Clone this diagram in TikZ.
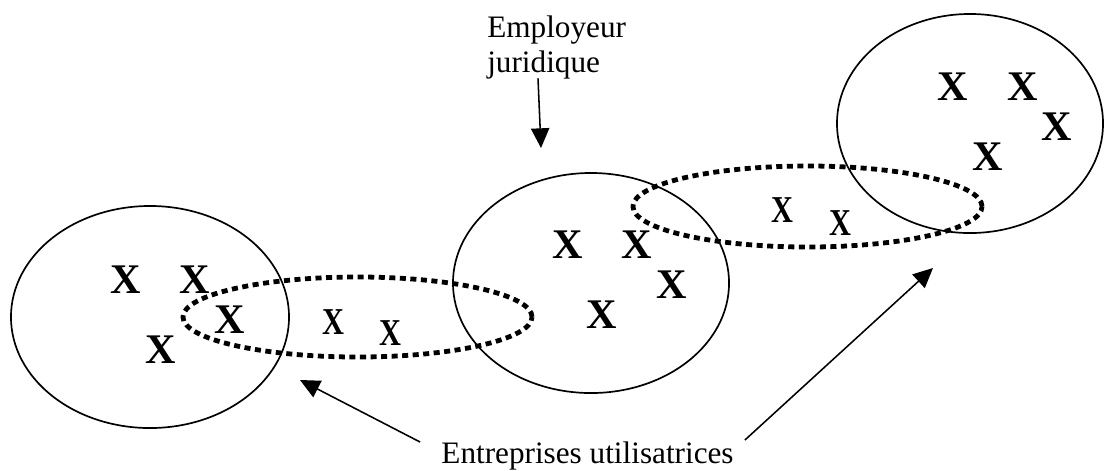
\documentclass[tikz,border=0pt]{standalone}
\usepackage{fontspec}
\setmainfont{Liberation Serif}
\usetikzlibrary{arrows.meta,shapes.geometric,calc}
\tikzset{
  firm/.style={
    ellipse, draw=black, line width=1.2pt, inner sep=0pt
  },
  pool/.style={
    ellipse, draw=black, line width=3.4pt, inner sep=0pt,
    dash pattern=on 4.3pt off 3.2pt
  },
  xbig/.style={
    inner sep=0pt, font=\fontsize{30}{32}\selectfont\bfseries
  },
  xsmall/.style={
    inner sep=0pt, font=\fontsize{27}{29}\selectfont\bfseries
  },
  lbl/.style={
    inner sep=0pt, align=left, font=\fontsize{22.2}{24.9}\selectfont
  },
  ptr/.style={
    -{Triangle[length=14pt,width=13pt]}, line width=1.1pt
  },
}
\newcommand{\thinx}{\scalebox{0.8}[1]{X}}

\begin{document}
\begin{tikzpicture}[x=0.025cm, y=-0.025cm]
\useasboundingbox (0,0) rectangle (1104,470);
% groupes d'entreprises
\node[firm, minimum width=6.95cm, minimum height=5.55cm] (entA) at (150,317) {};
\node[firm, minimum width=6.9cm, minimum height=5.5cm] (empJ) at (591,283) {};
\node[firm, minimum width=6.65cm, minimum height=5.475cm] (entB) at (970,123.5) {};
\node[pool, minimum width=8.725cm, minimum height=2.0cm] (poolA) at (357.5,317) {};
\node[pool, minimum width=8.725cm, minimum height=2.025cm] (poolB) at (807.5,206.5) {};
% salaries
\node[xbig] (a1) at (126,280) {X};
\node[xbig] (a2) at (195,280) {X};
\node[xbig] (a3) at (230,320) {X};
\node[xbig] (a4) at (161,350) {X};
\node[xsmall] (p1) at (333,322) {\thinx};
\node[xsmall] (p2) at (390,333) {\thinx};
\node[xbig] (j1) at (568,245) {X};
\node[xbig] (j2) at (637,245) {X};
\node[xbig] (j3) at (672,285) {X};
\node[xbig] (j4) at (602,315) {X};
\node[xsmall] (q1) at (782,210) {\thinx};
\node[xsmall] (q2) at (840,223) {\thinx};
\node[xbig] (b1) at (953,87) {X};
\node[xbig] (b2) at (1023,87) {X};
\node[xbig] (b3) at (1057,127) {X};
\node[xbig] (b4) at (988,157) {X};
% libelles
\node[lbl, anchor=north west] (emp) at (487,15.5) {Employeur\\juridique};
\node[lbl, anchor=base] (ents) at (587.5,463) {Entreprises utilisatrices};
\coordinate (empTip) at (541,148);
\coordinate (leftTip) at (300,380);
\coordinate (rightTip) at (933,268);
\draw[ptr] ($(emp.south west)+(51,-1)$) -- (empTip);
\draw[ptr] ($(ents.north west)+(-21,1)$) -- (leftTip);
\draw[ptr] ($(ents.north east)+(11,-1)$) -- (rightTip);
\end{tikzpicture}
\end{document}
